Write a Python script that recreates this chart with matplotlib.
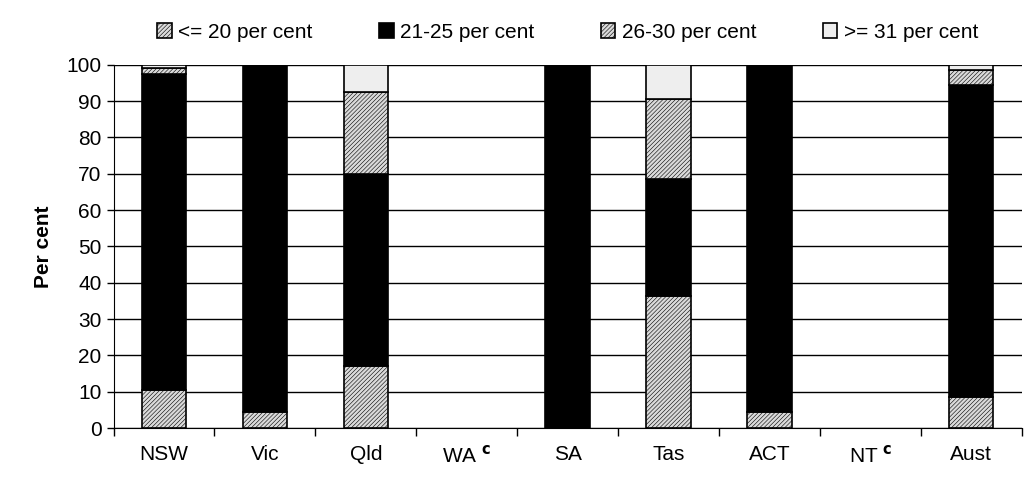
import numpy as np
import matplotlib.pyplot as plt

plt.rcParams['font.family'] = ['Liberation Sans', 'DejaVu Sans']
plt.rcParams['hatch.color'] = '#b4b4b4'
plt.rcParams['hatch.linewidth'] = 0.4

states = ['NSW', 'Vic', 'Qld', 'WA', 'SA', 'Tas', 'ACT', 'NT', 'Aust']
le20 = [10.5, 4.5, 17.0, 0, 0, 36.5, 4.5, 0, 8.5]
p21_25 = [87.0, 95.5, 53.0, 0, 100, 32.0, 95.5, 0, 86.0]
p26_30 = [1.5, 0, 22.5, 0, 0, 22.0, 0, 0, 4.0]
ge31 = [1.0, 0, 7.5, 0, 0, 9.5, 0, 0, 1.5]
labels = ['<= 20 per cent', '21-25 per cent', '26-30 per cent', '>= 31 per cent']

fig = plt.figure(figsize=(10.32, 4.8), dpi=100)
ax = fig.add_axes([0.11, 0.108, 0.88, 0.757])
x = np.arange(len(states))
w = 0.44
series = [le20, p21_25, p26_30, ge31]
faces = ['#dadada', 'black', '#dadada', '#eeeeee']
hatches = ['////////', None, '////////', None]
bottom = np.zeros(len(states))
for vals, fc, h, lab in zip(series, faces, hatches, labels):
    v = np.array(vals)
    lw = [1.2 if val > 0 else 0 for val in v]
    ax.bar(x, v, w, bottom=bottom, color=fc, edgecolor='black', linewidth=lw,
           hatch=h, label=lab, zorder=3)
    bottom += v

ax.set_ylim(0, 100)
ax.set_xlim(-0.5, len(states) - 0.5)
ax.set_yticks(range(0, 101, 10))
ax.yaxis.grid(True, color='black', linewidth=1, zorder=0)
ax.set_xticks(x)
ax.set_xticklabels([])
for i, s in enumerate(states):
    if s in ('WA', 'NT'):
        ax.text(i, -4.5, s + ' $^{\\mathbf{c}}$', ha='center', va='top', fontsize=15)
    else:
        ax.text(i, -4.5, s, ha='center', va='top', fontsize=15)
ax.set_xticks(np.arange(-0.5, len(states)), minor=True)
ax.tick_params(axis='x', which='major', length=0)
ax.tick_params(axis='x', which='minor', length=6, width=1)
ax.tick_params(axis='y', labelsize=15, length=5, width=1)
for sp in ['top', 'right']:
    ax.spines[sp].set_visible(False)
ax.set_ylabel('Per cent', fontsize=15, fontweight='bold', labelpad=10)
ax.legend(loc='lower center', bbox_to_anchor=(0.5, 1.04), ncol=4, frameon=False,
          fontsize=15, handlelength=0.7, handleheight=0.7, handletextpad=0.3,
          columnspacing=3.2, borderaxespad=0)
fig.savefig('out.png')
